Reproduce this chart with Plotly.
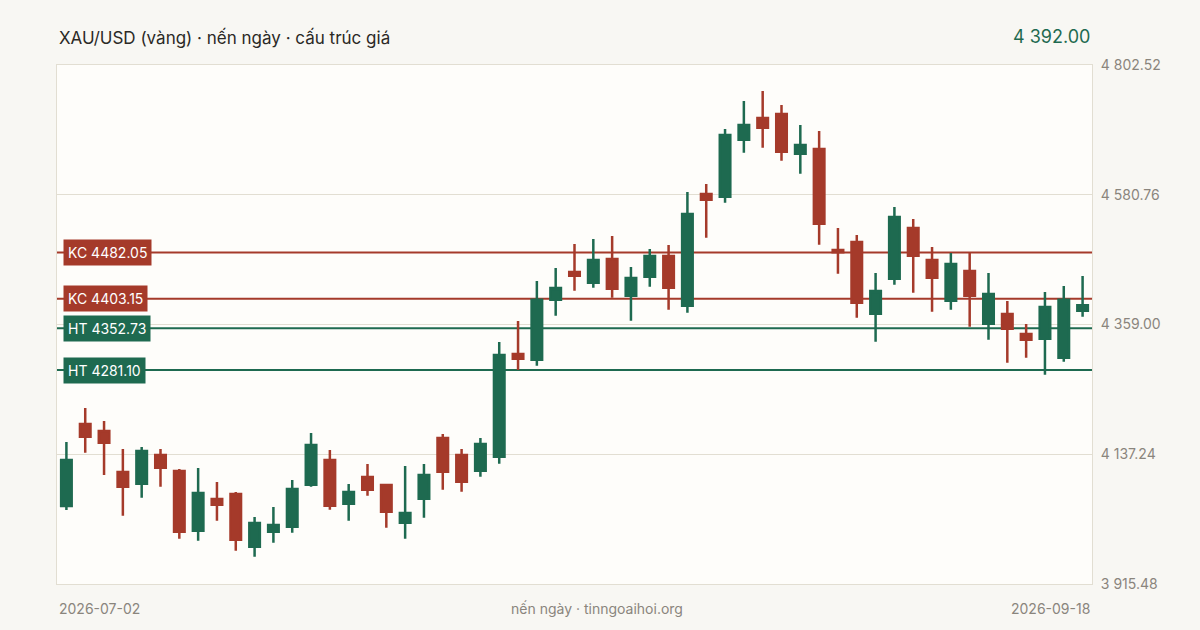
import pandas as pd
import plotly.graph_objects as go

# daily candles, XAU/USD
dates = pd.bdate_range("2026-07-02", "2026-09-18").drop(pd.to_datetime(["2026-07-03", "2026-09-07"])).strftime("%Y-%m-%d").tolist()

opens = [4048.8, 4188.9, 4177.0, 4106.9, 4086.9, 4136.0, 4108.6, 4006.6, 4060.8, 4069.3,
         3979.2, 4004.9, 4013.4, 4085.2, 4127.4, 4052.7, 4098.4, 4084.7, 4020.3, 4061.3,
         4165.0, 4136.0, 4109.1, 4133.1, 4308.6, 4298.8, 4401.4, 4448.7, 4430.4, 4471.0,
         4408.2, 4440.7, 4476.1, 4391.1, 4582.0, 4577.4, 4674.8, 4711.9, 4718.8, 4650.9,
         4659.0, 4486.3, 4500.0, 4377.5, 4437.3, 4523.9, 4469.2, 4399.7, 4450.4, 4360.4,
         4376.9, 4342.8, 4334.7, 4302.3, 4382.6]
highs = [4158.2, 4216.3, 4194.1, 4146.2, 4149.6, 4146.2, 4112.0, 4113.7, 4089.8, 4072.7,
         4030.0, 4047.1, 4093.2, 4173.6, 4144.5, 4086.4, 4120.6, 4086.4, 4117.2, 4120.6,
         4171.9, 4146.2, 4165.0, 4329.1, 4365.0, 4433.3, 4455.6, 4496.6, 4505.1, 4510.3,
         4457.3, 4488.0, 4494.9, 4585.5, 4599.1, 4693.1, 4741.0, 4758.1, 4734.2, 4700.0,
         4689.7, 4523.9, 4512.0, 4447.0, 4559.8, 4539.3, 4491.5, 4481.2, 4482.9, 4447.0,
         4399.2, 4359.9, 4414.5, 4424.8, 4441.9]
lows = [4042.0, 4139.9, 4101.8, 4032.2, 4063.0, 4081.8, 3992.9, 3989.5, 4023.7, 3972.4,
        3962.1, 3986.1, 4003.2, 4081.8, 4042.5, 4023.7, 4066.4, 4011.7, 3992.9, 4028.8,
        4076.7, 4073.2, 4098.9, 4121.1, 4281.2, 4288.6, 4374.0, 4416.8, 4421.9, 4404.8,
        4365.5, 4423.6, 4384.3, 4379.2, 4507.4, 4567.2, 4652.6, 4661.2, 4639.0, 4616.7,
        4495.4, 4445.8, 4370.6, 4329.6, 4427.0, 4413.4, 4380.9, 4384.3, 4355.2, 4333.0,
        4293.7, 4302.3, 4273.2, 4295.4, 4372.3]
closes = [4127.4, 4167.2, 4157.0, 4081.8, 4142.8, 4114.3, 4004.9, 4071.0, 4051.0, 3991.2,
          4019.7, 4016.3, 4077.9, 4153.1, 4049.3, 4072.7, 4076.7, 4039.1, 4036.8, 4101.8,
          4107.4, 4090.3, 4154.8, 4306.9, 4300.5, 4401.4, 4421.4, 4442.4, 4469.2, 4420.2,
          4438.5, 4476.1, 4421.9, 4547.9, 4572.3, 4682.9, 4700.0, 4695.4, 4654.3, 4665.8,
          4531.3, 4482.4, 4396.3, 4416.3, 4542.7, 4476.6, 4439.0, 4462.4, 4408.2, 4411.1,
          4351.8, 4333.0, 4388.9, 4401.4, 4392.0]

# support / resistance levels
level_names = ["KC", "KC", "HT", "HT"]
level_values = [4482.05, 4403.15, 4352.73, 4281.10]

y_ticks = [3915.48, 4137.24, 4359.00, 4580.76, 4802.52]

GREEN = "#1e6a50"
RED = "#a53a2a"
GRID = "#e2ded2"
MUTED = "#8a857d"
PAGE_BG = "#f8f7f3"
FONT = "Inter, 'Noto Sans', sans-serif"

fig = go.Figure()

for name, val in zip(level_names, level_values):
    color = RED if name == "KC" else GREEN
    fig.add_hline(y=val, line=dict(color=color, width=2), layer="below")
    fig.add_annotation(
        xref="paper", yref="y", x=0.006, y=val, xanchor="left", yanchor="middle",
        text=f"{name} {val:.2f}", showarrow=False,
        bgcolor=color, borderpad=4, font=dict(color="white", size=14, family=FONT),
    )

fig.add_trace(go.Candlestick(
    x=dates, open=opens, high=highs, low=lows, close=closes,
    increasing=dict(line=dict(color=GREEN, width=2.5), fillcolor=GREEN),
    decreasing=dict(line=dict(color=RED, width=2.5), fillcolor=RED),
    whiskerwidth=0, showlegend=False,
))

fig.update_layout(
    width=1200, height=630,
    margin=dict(l=57, r=108, t=65, b=46),
    paper_bgcolor=PAGE_BG, plot_bgcolor="#fefdfa",
    separators=". ",
    boxgap=0.2,
    font=dict(family=FONT, color=MUTED, size=14),
    xaxis=dict(type="category", range=[-0.5, len(dates) - 0.5], showticklabels=False,
               showgrid=False, rangeslider=dict(visible=False), fixedrange=True,
               showline=True, linecolor=GRID, mirror=True, ticks=""),
    yaxis=dict(side="right", range=[y_ticks[0], y_ticks[-1]], tickvals=y_ticks,
               tickformat=",.2f", showgrid=True, gridcolor=GRID, gridwidth=1,
               showline=True, linecolor=GRID, mirror=True, zeroline=False,
               ticks="", ticklabelstandoff=5, tickfont=dict(size=14, color=MUTED)),
)

fig.add_annotation(xref="paper", yref="paper", x=0, y=1, yshift=28, xanchor="left", yanchor="middle",
                   text="XAU/USD (vàng) · nến ngày · cấu trúc giá", showarrow=False,
                   font=dict(size=17, color="#2b2926", family=FONT))
fig.add_annotation(xref="paper", yref="paper", x=1, y=1, yshift=29, xanchor="right", yanchor="middle",
                   text=f"{closes[-1]:,.2f}".replace(",", " "), showarrow=False,
                   font=dict(size=18, color=GREEN, family=FONT))

# footer: first date, source, last date
for xpos, anchor, label in [(0, "left", dates[0]), (0.5217, "center", "nến ngày · tinngoaihoi.org"),
                            (1, "right", dates[-1])]:
    fig.add_annotation(xref="paper", yref="paper", x=xpos, y=0, yshift=-24, xanchor=anchor,
                       yanchor="middle", text=label, showarrow=False,
                       font=dict(size=14, color=MUTED, family=FONT))

fig.write_html(
    "out.html",
    config={"displayModeBar": False},
    post_script=f"document.body.style.margin='0';document.body.style.background='{PAGE_BG}';",
)
